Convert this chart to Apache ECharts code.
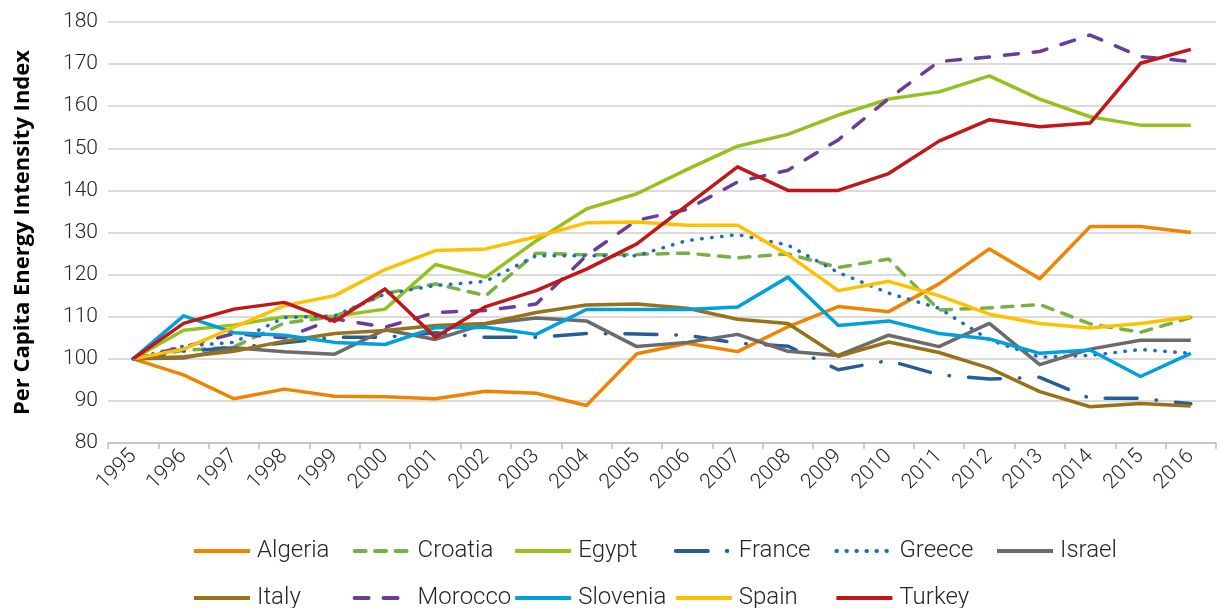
<!DOCTYPE html>
<html>
<head>
<meta charset="utf-8">
<script src="https://cdn.jsdelivr.net/npm/echarts@6/dist/echarts.min.js"></script>
<style>
html,body{margin:0;padding:0;background:#fff;}
#chart{width:1220px;height:608px;}
</style>
</head>
<body>
<div id="chart"></div>
<script>
const years = ['1995','1996','1997','1998','1999','2000','2001','2002','2003','2004','2005','2006','2007','2008','2009','2010','2011','2012','2013','2014','2015','2016'];
const yTicks = [80, 90, 100, 110, 120, 130, 140, 150, 160, 170, 180];

const algeria  = [100, 96.2, 90.5, 92.8, 91.1, 91.0, 90.5, 92.3, 91.8, 88.9, 101.2, 103.7, 101.7, 107.6, 112.4, 111.2, 117.8, 126.1, 119.0, 131.4, 131.4, 130.0];
const croatia  = [100, 102.0, 102.8, 108.5, 110.0, 115.5, 117.8, 115.0, 125.1, 124.7, 124.8, 125.1, 124.0, 124.9, 121.7, 123.7, 111.6, 112.1, 112.9, 108.3, 106.3, 109.8];
const egypt    = [100, 106.8, 108.0, 110.0, 110.1, 111.8, 122.4, 119.4, 128.0, 135.6, 139.2, 145.0, 150.5, 153.3, 157.9, 161.7, 163.4, 167.2, 161.7, 157.5, 155.5, 155.5];
const france   = [100, 101.8, 102.6, 103.8, 105.1, 105.1, 106.2, 105.1, 105.1, 106.0, 105.9, 105.6, 103.7, 103.0, 97.4, 99.6, 96.2, 95.2, 95.6, 90.6, 90.6, 89.3];
const greece   = [100, 103.0, 103.9, 109.8, 110.2, 115.4, 117.4, 118.4, 124.5, 124.5, 124.5, 128.1, 129.5, 127.0, 120.5, 115.6, 112.0, 104.5, 100.4, 100.8, 102.2, 101.3];
const israel   = [100, 100.2, 102.6, 101.7, 101.1, 106.9, 104.6, 108.3, 109.7, 109.0, 102.9, 103.9, 105.8, 101.8, 100.8, 105.6, 102.9, 108.4, 98.6, 102.3, 104.4, 104.4];
const italy    = [100, 100.5, 101.8, 104.2, 106.0, 106.7, 107.9, 108.4, 111.0, 112.8, 113.0, 112.0, 109.4, 108.4, 100.6, 104.0, 101.5, 97.8, 92.2, 88.6, 89.4, 88.8];
const morocco  = [100, 102.8, 106.0, 105.0, 109.5, 107.5, 111.0, 111.5, 113.0, 124.5, 132.9, 135.5, 142.0, 144.8, 152.0, 161.8, 170.6, 171.7, 173.0, 176.9, 171.8, 170.6];
const slovenia = [100, 110.2, 106.2, 105.6, 103.9, 103.4, 107.4, 107.5, 105.8, 111.7, 111.7, 111.7, 112.3, 119.4, 107.9, 109.0, 106.0, 104.7, 101.3, 102.1, 95.8, 101.3];
const spain    = [100, 102.3, 107.5, 112.6, 115.0, 121.2, 125.7, 126.1, 129.0, 132.3, 132.5, 131.7, 131.7, 124.7, 116.2, 118.4, 115.0, 110.6, 108.4, 107.3, 108.4, 110.0];
const turkey   = [100, 108.4, 111.8, 113.4, 108.9, 116.6, 105.1, 112.4, 116.2, 121.3, 127.3, 136.5, 145.6, 140.0, 140.0, 144.0, 151.7, 156.8, 155.1, 156.0, 170.2, 173.5];

const seriesDefs = [
  {name:'Algeria',  data:algeria,  color:'#F08300', type:'solid'},
  {name:'Croatia',  data:croatia,  color:'#77B043', type:[11,9.5]},
  {name:'Egypt',    data:egypt,    color:'#95C11F', type:'solid'},
  {name:'France',   data:france,   color:'#255E96', type:[32,19,0.5,19]},
  {name:'Greece',   data:greece,   color:'#1C6DBF', type:[0.5,9.5]},
  {name:'Israel',   data:israel,   color:'#6B6B6B', type:'solid'},
  {name:'Italy',    data:italy,    color:'#987219', type:'solid'},
  {name:'Morocco',  data:morocco,  color:'#6A3D9A', type:[14,15]},
  {name:'Slovenia', data:slovenia, color:'#00A0DD', type:'solid'},
  {name:'Spain',    data:spain,    color:'#FFC000', type:'solid'},
  {name:'Turkey',   data:turkey,   color:'#C3161B', type:'solid'}
];

const FONT = 'Roboto, "Liberation Sans", sans-serif';
const chart = echarts.init(document.getElementById('chart'));

const perRow = 6;
const legends = seriesDefs.map((s, i) => {
  const row = Math.floor(i / perRow);
  const col = i % perRow;
  return {
    left: 192 + col * 160.6,
    top: 539 + row * 47,
    padding: 0,
    itemWidth: 56,
    itemHeight: 14,
    itemGap: 0,
    selectedMode: false,
    itemStyle: {opacity: 0},
    lineStyle: {width: 4},
    textStyle: {fontFamily: FONT, fontSize: 24, fontWeight: 300, color: '#262626', lineHeight: 24, padding: [0,0,0,2]},
    data: [s.name]
  };
});

chart.setOption({
  animation: false,
  backgroundColor: '#ffffff',
  grid: {left: 108, right: 4, top: 22, bottom: 165, containLabel: false},
  legend: legends,
  xAxis: {
    type: 'category',
    data: years,
    boundaryGap: true,
    axisLine: {show: true, lineStyle: {color: '#BFBFBF', width: 1.5}},
    axisTick: {show: true, length: 6, lineStyle: {color: '#BFBFBF', width: 1.5}},
    axisLabel: {rotate: 45, margin: 10, fontFamily: FONT, fontSize: 21, fontWeight: 300, color: '#262626', interval: 0},
    splitLine: {show: false}
  },
  yAxis: {
    type: 'value',
    min: yTicks[0],
    max: yTicks[yTicks.length-1],
    interval: 10,
    name: 'Per Capita Energy Intensity Index',
    nameLocation: 'middle',
    nameGap: 74,
    nameRotate: 90,
    nameTextStyle: {fontFamily: '"Open Sans", sans-serif', fontWeight: 'bold', fontSize: 22, color: '#000'},
    axisLine: {show: false},
    axisTick: {show: false},
    axisLabel: {margin: 10, fontFamily: FONT, fontSize: 21, fontWeight: 300, color: '#262626'},
    splitLine: {show: true, lineStyle: {color: '#CFCFCF', width: 1.5}}
  },
  series: seriesDefs.map(s => ({
    name: s.name,
    type: 'line',
    data: s.data,
    symbol: 'none',
    smooth: false,
    itemStyle: {color: s.color},
    lineStyle: {color: s.color, width: 3.5, type: s.type, cap: s.type === 'solid' ? 'butt' : 'round', join: 'round'},
    emphasis: {disabled: true}
  }))
});
</script>
</body>
</html>
